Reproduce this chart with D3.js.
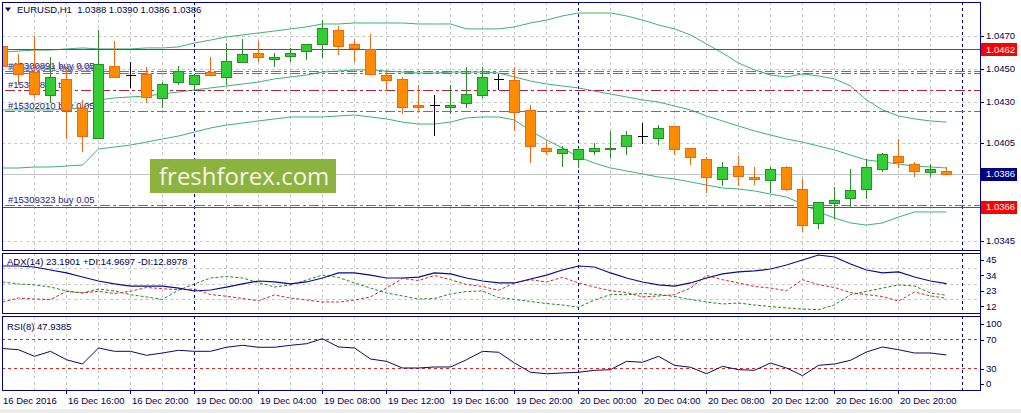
<!DOCTYPE html>
<html>
<head>
<meta charset="utf-8">
<script src="https://cdnjs.cloudflare.com/ajax/libs/d3/7.8.5/d3.min.js"></script>
<style>
  body { margin: 0; background: #fff; }
  text { font-family: "Liberation Sans", Arial, sans-serif; font-size: 9.5px; fill: #000050; }
</style>
</head>
<body>
<div id="chart"></div>
<script>
// EURUSD H1 bars, left to right
var barTimes = [
  "2016-12-16 12:00","2016-12-16 13:00","2016-12-16 14:00","2016-12-16 15:00","2016-12-16 16:00","2016-12-16 17:00",
  "2016-12-16 18:00","2016-12-16 19:00","2016-12-16 20:00","2016-12-16 21:00","2016-12-16 22:00","2016-12-16 23:00",
  "2016-12-19 00:00","2016-12-19 01:00","2016-12-19 02:00","2016-12-19 03:00","2016-12-19 04:00","2016-12-19 05:00",
  "2016-12-19 06:00","2016-12-19 07:00","2016-12-19 08:00","2016-12-19 09:00","2016-12-19 10:00","2016-12-19 11:00",
  "2016-12-19 12:00","2016-12-19 13:00","2016-12-19 14:00","2016-12-19 15:00","2016-12-19 16:00","2016-12-19 17:00",
  "2016-12-19 18:00","2016-12-19 19:00","2016-12-19 20:00","2016-12-19 21:00","2016-12-19 22:00","2016-12-19 23:00",
  "2016-12-20 00:00","2016-12-20 01:00","2016-12-20 02:00","2016-12-20 03:00","2016-12-20 04:00","2016-12-20 05:00",
  "2016-12-20 06:00","2016-12-20 07:00","2016-12-20 08:00","2016-12-20 09:00","2016-12-20 10:00","2016-12-20 11:00",
  "2016-12-20 12:00","2016-12-20 13:00","2016-12-20 14:00","2016-12-20 15:00","2016-12-20 16:00","2016-12-20 17:00",
  "2016-12-20 18:00","2016-12-20 19:00","2016-12-20 20:00","2016-12-20 21:00","2016-12-20 22:00","2016-12-20 23:00"
];
var opens = [1.0464,1.0453,1.0448,1.0434,1.0444,1.0426,1.0408,1.0452,1.0446,1.0447,
  1.0432,1.0442,1.0441,1.0448,1.0445,1.0454,1.0460,1.0456,1.0458,1.0461,
  1.0465,1.0474,1.0465,1.0462,1.0446,1.0444,1.0428,1.0428,1.0427,1.0429,
  1.0434,1.0444,1.0443,1.0425,1.0402,1.0399,1.0395,1.0400,1.0401,1.0403,
  1.0409,1.0408,1.0415,1.0402,1.0395,1.0383,1.0391,1.0384,1.0382,1.0390,
  1.0377,1.0356,1.0368,1.0371,1.0377,1.0389,1.0397,1.0392,1.0387,1.0388];
var highs = [1.0471,1.0459,1.0470,1.0457,1.0451,1.0431,1.0474,1.0467,1.0454,1.0451,
  1.0442,1.0452,1.0447,1.0457,1.0466,1.0468,1.0467,1.0460,1.0463,1.0465,
  1.0480,1.0476,1.0468,1.0471,1.0449,1.0445,1.0440,1.0434,1.0440,1.0451,
  1.0451,1.0447,1.0451,1.0428,1.0406,1.0403,1.0402,1.0405,1.0412,1.0412,
  1.0417,1.0416,1.0415,1.0402,1.0396,1.0393,1.0397,1.0390,1.0390,1.0391,
  1.0383,1.0369,1.0378,1.0389,1.0395,1.0399,1.0407,1.0393,1.0392,1.0390];
var lows = [1.0448,1.0441,1.0433,1.0430,1.0408,1.0400,1.0408,1.0445,1.0439,1.0430,
  1.0427,1.0441,1.0437,1.0446,1.0441,1.0454,1.0455,1.0452,1.0455,1.0456,
  1.0457,1.0459,1.0455,1.0447,1.0437,1.0423,1.0424,1.0410,1.0423,1.0427,
  1.0433,1.0438,1.0413,1.0393,1.0398,1.0391,1.0390,1.0398,1.0396,1.0398,
  1.0405,1.0404,1.0398,1.0392,1.0375,1.0379,1.0379,1.0380,1.0375,1.0376,
  1.0351,1.0353,1.0359,1.0366,1.0371,1.0388,1.0390,1.0385,1.0385,1.0386];
var closes = [1.0452,1.0447,1.0435,1.0445,1.0425,1.0409,1.0453,1.0445,1.0446,1.0433,
  1.0441,1.0449,1.0446,1.0446,1.0455,1.0459,1.0457,1.0457,1.0460,1.0465,
  1.0475,1.0464,1.0463,1.0447,1.0443,1.0427,1.0427,1.0428,1.0428,1.0435,
  1.0445,1.0444,1.0424,1.0403,1.0400,1.0401,1.0401,1.0402,1.0402,1.0410,
  1.0409,1.0414,1.0401,1.0396,1.0384,1.0390,1.0385,1.0383,1.0389,1.0377,
  1.0355,1.0369,1.0370,1.0376,1.0390,1.0398,1.0393,1.0388,1.0389,1.0386];

// Bollinger bands
var bbUpper = [1.04603,1.04609,1.04615,1.04615,1.04622,1.04628,1.04622,1.04622,1.04622,1.04628,
  1.04628,1.04634,1.04658,1.04676,1.04695,1.04707,1.04719,1.04731,1.04744,1.04756,
  1.04774,1.04774,1.04780,1.04780,1.04780,1.04780,1.04774,1.04774,1.04774,1.04744,
  1.04744,1.04744,1.04756,1.04780,1.04798,1.04823,1.04841,1.04841,1.04841,1.04823,
  1.04798,1.04768,1.04744,1.04707,1.04652,1.04597,1.04536,1.04494,1.04463,1.04451,
  1.04469,1.04457,1.04439,1.04396,1.04311,1.04250,1.04213,1.04195,1.04183,1.04176];
var bbMiddle = [1.04250,1.04250,1.04250,1.04250,1.04256,1.04262,1.04311,1.04323,1.04329,1.04335,
  1.04347,1.04359,1.04372,1.04384,1.04396,1.04408,1.04420,1.04439,1.04451,1.04463,
  1.04481,1.04487,1.04494,1.04494,1.04487,1.04481,1.04475,1.04475,1.04481,1.04481,
  1.04481,1.04475,1.04451,1.04426,1.04408,1.04396,1.04384,1.04365,1.04347,1.04329,
  1.04311,1.04298,1.04274,1.04250,1.04213,1.04183,1.04152,1.04122,1.04097,1.04073,
  1.04054,1.04030,1.04006,1.03975,1.03945,1.03933,1.03920,1.03908,1.03902,1.03896];
var bbLower = [1.03896,1.03896,1.03902,1.03902,1.03908,1.03914,1.04012,1.04024,1.04036,1.04054,
  1.04073,1.04091,1.04115,1.04140,1.04158,1.04170,1.04183,1.04195,1.04207,1.04207,
  1.04207,1.04213,1.04219,1.04207,1.04195,1.04176,1.04164,1.04164,1.04176,1.04201,
  1.04207,1.04207,1.04189,1.04122,1.04067,1.04018,1.03963,1.03926,1.03896,1.03878,
  1.03860,1.03841,1.03829,1.03811,1.03792,1.03774,1.03768,1.03756,1.03737,1.03719,
  1.03677,1.03628,1.03591,1.03561,1.03548,1.03561,1.03597,1.03628,1.03628,1.03628];

// ADX(14)
var adxMain = [35.7,35.7,35.0,32.9,30.8,27.9,25.1,23.0,21.5,21.5,
  21.5,20.1,18.0,18.7,20.8,23.0,25.1,24.4,23.0,24.4,
  27.2,30.8,30.8,29.3,27.2,27.2,27.9,30.8,30.1,27.2,
  25.1,23.7,23.7,26.5,29.3,32.9,35.7,35.0,30.8,27.2,
  24.4,22.3,21.5,23.7,27.2,30.1,31.5,32.2,33.6,36.4,
  40.0,43.5,42.1,37.1,32.9,30.8,31.5,27.9,25.1,23.19];
var adxPlus = [24.4,23.0,22.3,20.8,18.0,16.6,19.4,18.0,15.4,13.8,
  12.0,18.7,23.0,27.2,28.3,27.2,24.0,20.8,22.3,25.8,
  29.3,27.6,23.7,20.1,16.6,14.5,12.3,12.7,15.9,17.7,
  18.0,13.4,12.0,10.6,9.1,8.1,6.5,11.6,15.5,15.4,
  16.2,15.5,14.1,12.0,10.2,8.8,9.5,8.1,7.0,6.0,
  5.2,4.8,8.1,15.4,17.7,20.1,22.3,21.5,16.6,14.97];
var adxMinus = [10.2,13.0,12.3,12.0,17.7,16.6,17.8,16.2,17.8,20.5,
  19.6,18.9,19.4,15.5,14.3,12.7,11.1,15.2,13.0,11.6,
  10.2,10.2,11.6,13.8,20.1,26.9,25.4,29.0,26.0,22.6,
  21.2,18.4,23.7,26.0,24.4,27.7,23.7,20.8,18.2,16.9,
  13.8,14.5,15.4,20.1,29.0,26.0,23.7,21.2,20.1,18.2,
  26.0,22.5,20.5,16.9,15.4,14.1,10.9,17.3,14.5,12.90];

// RSI(8)
var rsiValues = [56.9,55.2,46.1,53.0,41.4,35.5,57.6,53.0,53.0,47.5,
  50.7,54.4,53.0,53.0,58.6,61.3,58.6,58.6,61.3,63.5,
  70.4,59.0,57.6,42.4,39.2,30.0,30.0,31.4,31.4,41.4,
  53.0,51.7,36.9,24.1,22.1,23.1,24.1,26.8,27.7,39.2,
  37.9,46.1,33.7,31.0,22.1,32.3,27.7,26.8,36.9,30.0,
  19.4,33.7,35.5,40.6,52.1,59.0,55.2,50.7,50.7,47.94];

var priceTicks = [1.0470, 1.0450, 1.0430, 1.0405, 1.0345];
var adxTicks = [45, 34, 23, 12];
var rsiTicks = [100, 70, 30, 0];
var rsiLevels = [70, 30];
var timeTicks = ["2016-12-16 12:00","2016-12-16 16:00","2016-12-16 20:00","2016-12-19 00:00","2016-12-19 04:00",
  "2016-12-19 08:00","2016-12-19 12:00","2016-12-19 16:00","2016-12-19 20:00","2016-12-20 00:00",
  "2016-12-20 04:00","2016-12-20 08:00","2016-12-20 12:00","2016-12-20 16:00","2016-12-20 20:00"];
var timeLabels = ["16 Dec 2016","16 Dec 16:00","16 Dec 20:00","19 Dec 00:00","19 Dec 04:00",
  "19 Dec 08:00","19 Dec 12:00","19 Dec 16:00","19 Dec 20:00","20 Dec 00:00",
  "20 Dec 04:00","20 Dec 08:00","20 Dec 12:00","20 Dec 16:00","20 Dec 20:00"];
var daySeparators = ["2016-12-19 00:00","2016-12-20 00:00","2016-12-21 00:00"];

// horizontal lines
var redLevels = [1.0462, 1.0366];
var bidPrice = 1.0386;
var orderPrices = [1.04490, 1.04478, 1.04372, 1.04244, 1.03669];
var orderNames = ["#15300891 buy 0.05", "#15300841 buy 0.05", "#15300891 tp", "#15302010 buy 0.05", "#15309323 buy 0.05"];
var orderTypes = ["buy", "buy", "tp", "buy", "buy"];

var adxLegend = "ADX(14) 23.1901 +DI:14.9697 -DI:12.8978";
var rsiLegend = "RSI(8) 47.9385";

// ---------------------------------------------------------------
var W = 1021, H = 413;
var left = 2, right = 980;
var mainP = {top: 2, bottom: 250}, adxP = {top: 253, bottom: 313}, rsiP = {top: 316, bottom: 390};
var navy = "#000080";

function idx(t) {
  var i = barTimes.indexOf(t);
  return i < 0 ? barTimes.length : i;
}

var x = d3.scaleLinear().domain([0, barTimes.length - 1]).range([2, 946]);
var y = d3.scaleLinear().domain([1.03396, 1.04908]).range([mainP.bottom, mainP.top]);
var yAdx = d3.scaleLinear().domain([2.41, 44.93]).range([adxP.bottom, adxP.top]);
var yRsi = d3.scaleLinear().domain([0, 100]).range([389.75, 317.25]);

var svg = d3.select("#chart").append("svg")
  .attr("width", W)
  .attr("height", H)
  .style("display", "block");

svg.append("rect").attr("x", 0).attr("y", 409).attr("width", W).attr("height", 4).attr("fill", "#ececec");

var defs = svg.append("defs");
[["clipMain", mainP], ["clipAdx", adxP], ["clipRsi", rsiP]].forEach(function(c) {
  defs.append("clipPath").attr("id", c[0]).append("rect")
    .attr("x", left).attr("y", c[1].top).attr("width", right - left).attr("height", c[1].bottom - c[1].top);
});

function panelGroup(id) {
  return svg.append("g").attr("clip-path", "url(#" + id + ")").attr("shape-rendering", "crispEdges");
}
var gMain = panelGroup("clipMain");
var gAdx = panelGroup("clipAdx");
var gRsi = panelGroup("clipRsi");

// vertical grid every 2 bars
var gridIdx = d3.range(2, barTimes.length + 1, 2);
[[gMain, mainP], [gAdx, adxP], [gRsi, rsiP]].forEach(function(p) {
  p[0].selectAll(null).data(gridIdx).enter().append("line")
    .attr("x1", d => x(d) + 0.5).attr("x2", d => x(d) + 0.5)
    .attr("y1", p[1].top).attr("y2", p[1].bottom)
    .attr("stroke", "#c8c8c8").attr("stroke-dasharray", "3,3");
});

// horizontal grid
gMain.selectAll(null).data(priceTicks).enter().append("line")
  .attr("x1", left).attr("x2", right)
  .attr("y1", d => Math.round(y(d)) + 0.5).attr("y2", d => Math.round(y(d)) + 0.5)
  .attr("stroke", "#c8c8c8").attr("stroke-dasharray", "3,3");
gAdx.selectAll(null).data(adxTicks.slice(1)).enter().append("line")
  .attr("x1", left).attr("x2", right)
  .attr("y1", d => Math.round(yAdx(d)) + 0.5).attr("y2", d => Math.round(yAdx(d)) + 0.5)
  .attr("stroke", "#c8c8c8").attr("stroke-dasharray", "3,3");

// day separators
[[gMain, mainP], [gAdx, adxP], [gRsi, rsiP]].forEach(function(p) {
  p[0].selectAll(null).data(daySeparators).enter().append("line")
    .attr("x1", d => x(idx(d)) + 0.5).attr("x2", d => x(idx(d)) + 0.5)
    .attr("y1", p[1].top).attr("y2", p[1].bottom)
    .attr("stroke", navy).attr("stroke-dasharray", "3,3");
});

// bid line
gMain.append("line")
  .attr("x1", left).attr("x2", right)
  .attr("y1", Math.round(y(bidPrice)) + 0.5).attr("y2", Math.round(y(bidPrice)) + 0.5)
  .attr("stroke", "#c4c4c4");

// Bollinger bands
var bandLine = d3.line().x((d, i) => x(i) + 0.5).y(d => y(d));
[bbUpper, bbMiddle, bbLower].forEach(function(s) {
  gMain.append("path").datum(s)
    .attr("d", bandLine)
    .attr("fill", "none")
    .attr("stroke", "#3cb371")
    .attr("shape-rendering", "auto")
    .attr("stroke-width", 1);
});

// red horizontal lines
gMain.selectAll(null).data(redLevels).enter().append("line")
  .attr("x1", left).attr("x2", right)
  .attr("y1", d => Math.round(y(d)) + 0.5).attr("y2", d => Math.round(y(d)) + 0.5)
  .attr("stroke", "#d42020");

// order lines and labels
gMain.selectAll(null).data(orderPrices).enter().append("line")
  .attr("x1", 5).attr("x2", right)
  .attr("y1", d => Math.round(y(d)) + 0.5).attr("y2", d => Math.round(y(d)) + 0.5)
  .attr("stroke", (d, i) => orderTypes[i] === "tp" ? "#b8203c" : "#10b810")
  .attr("stroke-width", 1.2)
  .attr("stroke-dasharray", "10,3,3,3");

gMain.selectAll(null).data(orderPrices).enter().append("text")
  .attr("x", (d, i) => 8 + (i === 1 ? 1 : 0))
  .attr("y", d => y(d) - 2)
  .style("fill", (d, i) => i === 1 ? "#5a5ab4" : "#23237a")
  .text((d, i) => orderNames[i]);

// watermark
gMain.append("rect")
  .attr("x", 150).attr("y", 159).attr("width", 186).attr("height", 34)
  .attr("fill", "#8cb33d");
gMain.append("text")
  .attr("x", 159).attr("y", 185)
  .style("font-family", "'Open Sans', 'Noto Sans', sans-serif")
  .style("font-size", "24px")
  .style("fill", "#f6f6f0")
  .text("freshforex.com");

// candles
var candles = barTimes.map(function(t, i) {
  return {i: i, o: opens[i], h: highs[i], l: lows[i], c: closes[i]};
});
var cg = gMain.selectAll(".candle").data(candles).enter().append("g").attr("class", "candle");

function candleStroke(d) {
  if (d.o === d.c) return "#000000";
  return d.c > d.o ? "#2b8c2b" : "#ee6618";
}
cg.append("line")
  .attr("x1", d => x(d.i) + 0.5).attr("x2", d => x(d.i) + 0.5)
  .attr("y1", d => Math.round(y(d.h))).attr("y2", d => Math.round(y(d.l)) + 1)
  .attr("stroke", candleStroke);
cg.append("path")
  .attr("d", function(d) {
    var cx = x(d.i);
    var top = Math.round(y(Math.max(d.o, d.c))) + 0.5;
    var bot = Math.round(y(Math.min(d.o, d.c))) + 0.5;
    return "M" + (cx - 4.5) + "," + top + "H" + (cx + 5.5) + "V" + bot + "H" + (cx - 4.5) + "Z";
  })
  .attr("fill", d => d.o === d.c ? "none" : (d.c > d.o ? "#32cd32" : "#ff8c00"))
  .attr("stroke", candleStroke);

// ADX lines
var adxLine = d3.line().x((d, i) => x(i) + 0.5).y(d => yAdx(d));
gAdx.append("path").datum(adxPlus).attr("d", adxLine).attr("fill", "none")
  .attr("stroke", "#1e8c1e").attr("stroke-dasharray", "3,2").attr("shape-rendering", "auto");
gAdx.append("path").datum(adxMinus).attr("d", adxLine).attr("fill", "none")
  .attr("stroke", "#d42828").attr("stroke-dasharray", "3,2").attr("shape-rendering", "auto");
gAdx.append("path").datum(adxMain).attr("d", adxLine).attr("fill", "none")
  .attr("stroke", "#0a0a8c").attr("stroke-width", 1.2).attr("shape-rendering", "auto");

// RSI
gRsi.selectAll(null).data(rsiLevels).enter().append("line")
  .attr("x1", left).attr("x2", right)
  .attr("y1", d => Math.round(yRsi(d)) + 0.5).attr("y2", d => Math.round(yRsi(d)) + 0.5)
  .attr("stroke", "#d42828").attr("stroke-dasharray", "3,3");
var rsiLine = d3.line().x((d, i) => x(i) + 0.5).y(d => yRsi(d));
gRsi.append("path").datum(rsiValues).attr("d", rsiLine).attr("fill", "none")
  .attr("stroke", "#0a0a60").attr("shape-rendering", "auto");

// panel frames
[mainP, adxP, rsiP].forEach(function(p) {
  svg.append("rect")
    .attr("x", left + 0.5).attr("y", p.top + 0.5)
    .attr("width", right - left).attr("height", p.bottom - p.top)
    .attr("fill", "none").attr("stroke", navy)
    .attr("shape-rendering", "crispEdges");
});

// right price axis
var axisG = svg.append("g").attr("shape-rendering", "crispEdges");
axisG.selectAll(null).data(priceTicks).enter().append("line")
  .attr("x1", right).attr("x2", right + 4)
  .attr("y1", d => Math.round(y(d)) + 0.5).attr("y2", d => Math.round(y(d)) + 0.5)
  .attr("stroke", navy);
axisG.selectAll(null).data(priceTicks).enter().append("text")
  .attr("x", right + 6).attr("y", d => y(d)).attr("dy", "0.35em")
  .text(d => d.toFixed(4));

// price boxes
var boxes = redLevels.map(v => ({v: v, fill: "#ff0000"})).concat([{v: bidPrice, fill: navy}]);
axisG.selectAll(null).data(boxes).enter().append("rect")
  .attr("x", right + 1).attr("y", d => Math.round(y(d.v)) - 6)
  .attr("width", 36).attr("height", 13)
  .attr("fill", d => d.fill);
axisG.selectAll(null).data(boxes).enter().append("text")
  .attr("x", right + 6).attr("y", d => y(d.v)).attr("dy", "0.36em")
  .style("fill", "#ffffff")
  .text(d => d.v.toFixed(4));

// ADX axis
axisG.selectAll(null).data(adxTicks).enter().append("line")
  .attr("x1", right).attr("x2", right + 4)
  .attr("y1", d => Math.round(yAdx(d) + 7) + 0.5).attr("y2", d => Math.round(yAdx(d) + 7) + 0.5)
  .attr("stroke", navy);
axisG.selectAll(null).data(adxTicks).enter().append("text")
  .attr("x", right + 6).attr("y", d => yAdx(d) + 7).attr("dy", "0.35em")
  .text(d => d);

// RSI axis
function rsiLabelY(v) {
  return Math.max(rsiP.top + 8, Math.min(rsiP.bottom - 6, yRsi(v) + 1));
}
axisG.selectAll(null).data(rsiTicks).enter().append("line")
  .attr("x1", right).attr("x2", right + 4)
  .attr("y1", d => Math.round(rsiLabelY(d)) + 0.5).attr("y2", d => Math.round(rsiLabelY(d)) + 0.5)
  .attr("stroke", navy);
axisG.selectAll(null).data(rsiTicks).enter().append("text")
  .attr("x", right + 6).attr("y", d => rsiLabelY(d)).attr("dy", "0.35em")
  .text(d => d);

// vertical axis line across all panels
axisG.append("line")
  .attr("x1", right + 0.5).attr("x2", right + 0.5)
  .attr("y1", mainP.top).attr("y2", rsiP.bottom + 1)
  .attr("stroke", navy);

// time axis
axisG.selectAll(null).data(timeTicks.slice(1)).enter().append("line")
  .attr("x1", d => x(idx(d)) + 0.5).attr("x2", d => x(idx(d)) + 0.5)
  .attr("y1", rsiP.bottom).attr("y2", rsiP.bottom + 4)
  .attr("stroke", navy);
axisG.selectAll(null).data(timeTicks).enter().append("text")
  .attr("x", (d, i) => i === 0 ? 3 : x(idx(d)) + 2)
  .attr("y", 403.5)
  .text((d, i) => timeLabels[i]);

// titles / legends
var last = barTimes.length - 1;
svg.append("path").attr("d", "M5,7.5L11,7.5L8,11.5Z").attr("fill", navy);
svg.append("text")
  .attr("x", 17).attr("y", 13)
  .style("white-space", "pre")
  .text("EURUSD,H1  " + [opens[last], highs[last], lows[last], closes[last]].map(v => v.toFixed(4)).join(" "));
svg.append("text").attr("x", 7).attr("y", 265).text(adxLegend);
svg.append("text").attr("x", 7).attr("y", 329.5).text(rsiLegend);
</script>
</body>
</html>
